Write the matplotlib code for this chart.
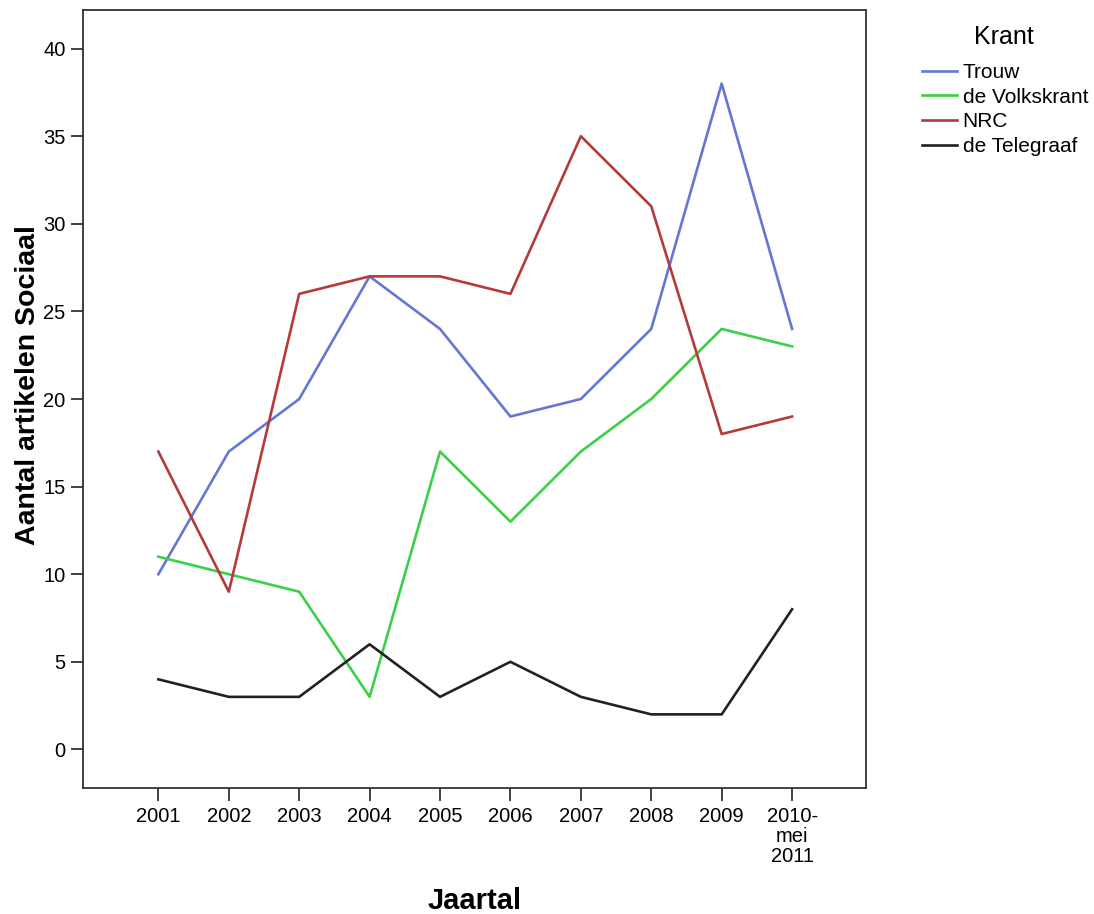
import matplotlib
matplotlib.use("Agg")
import matplotlib.pyplot as plt

plt.rcParams["font.family"] = ["Liberation Sans", "DejaVu Sans"]

years = ["2001", "2002", "2003", "2004", "2005", "2006", "2007", "2008", "2009", "2010-\nmei\n2011"]
trouw = [10, 17, 20, 27, 24, 19, 20, 24, 38, 24]
volkskrant = [11, 10, 9, 3, 17, 13, 17, 20, 24, 23]
nrc = [17, 9, 26, 27, 27, 26, 35, 31, 18, 19]
telegraaf = [4, 3, 3, 6, 3, 5, 3, 2, 2, 8]

series = [
    ("Trouw", trouw, "#6477d2"),
    ("de Volkskrant", volkskrant, "#3ccf48"),
    ("NRC", nrc, "#b53a3a"),
    ("de Telegraaf", telegraaf, "#222222"),
]

fig = plt.figure(figsize=(10.94, 9.14), dpi=100)
ax = fig.add_axes([0.0759, 0.1379, 0.7157, 0.8511])

x = list(range(len(years)))
for name, vals, col in series:
    ax.plot(x, vals, color=col, linewidth=1.9, label=name)

ax.set_xlim(-1.07, 10.05)
ax.set_ylim(-2.2, 42.2)
ax.set_xticks(x)
ax.set_xticklabels(years, fontsize=14.5, linespacing=1.05)
ax.set_yticks(range(0, 41, 5))
ax.tick_params(axis="both", labelsize=14.5, length=9, width=1.3, color="#333333",
               direction="out")
ax.tick_params(axis="x", pad=5)
for s in ax.spines.values():
    s.set_color("#333333")
    s.set_linewidth(1.3)

ax.set_xlabel("Jaartal", fontsize=21, fontweight="bold", va="center")
ax.xaxis.set_label_coords(0.5, -0.145)
ax.set_ylabel("Aantal artikelen Sociaal", fontsize=20.5, fontweight="bold", va="center")
ax.yaxis.set_label_coords(-0.07, 0.518)

ax.legend(loc="upper left", bbox_to_anchor=(922 / 1094, 1 - 63 / 914),
          bbox_transform=fig.transFigure, frameon=False, fontsize=15,
          handlelength=1.7, handletextpad=0.25, labelspacing=0.27,
          borderpad=0.0, borderaxespad=0.0)
fig.text(1004 / 1094, 1 - 37 / 914, "Krant", ha="center", va="center", fontsize=18)

fig.savefig("out.png", dpi=100)
